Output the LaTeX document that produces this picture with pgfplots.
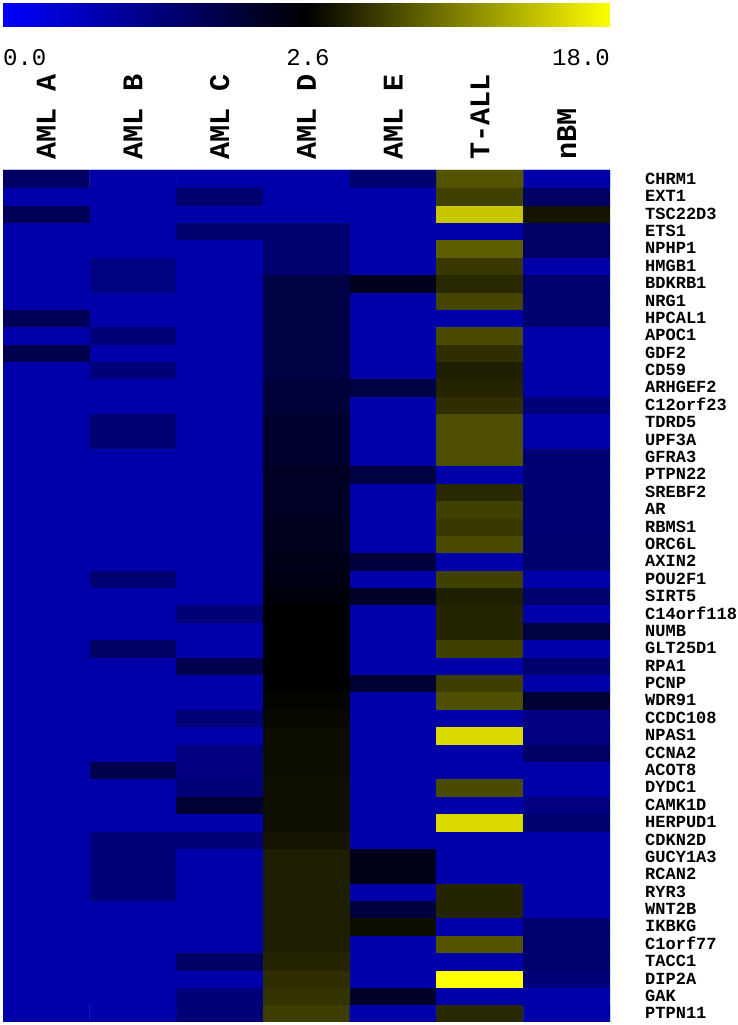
\documentclass[border=0pt]{standalone}
\usepackage{pgfplots}
\pgfplotsset{compat=1.18}
\usepackage{fontspec}
\setmonofont{Liberation Mono}

\pgfplotsset{
  colormap={bky}{rgb255=(0,0,255) rgb255=(0,0,0) rgb255=(255,255,0)}
}

\begin{document}
\begin{tikzpicture}
\path[use as bounding box] (0pt,0pt) rectangle (738pt,1025pt);

% colour scale bar
\begin{axis}[
    at={(3pt,998pt)}, anchor=south west,
    scale only axis,
    width=607pt, height=24pt,
    xmin=0, xmax=2, ymin=0, ymax=1,
    hide axis,
    colormap name=bky,
    point meta min=0, point meta max=2,
]
\addplot[surf, shader=interp, mesh/cols=3, point meta=x] coordinates {
(0,0) (1,0) (2,0)
(0,1) (1,1) (2,1)
};
\end{axis}

\begin{axis}[
    at={(3pt,3pt)}, anchor=south west,
    scale only axis,
    width=607pt, height=852pt,
    xmin=-0.5, xmax=6.5, ymin=-0.5, ymax=48.5,
    enlargelimits=false,
    colormap name=bky,
    point meta min=0, point meta max=2,
    axis line style={draw=none},
    major tick length=0pt,
    xtick={0,...,6},
    xticklabels={AML A,AML B,AML C,AML D,AML E,T-ALL,nBM},
    xticklabel pos=right,
    xticklabel shift=10pt,
    xticklabel style={rotate=90, anchor=west, inner sep=0pt,
        font=\ttfamily\bfseries\fontsize{28.5}{28.5}\selectfont},
    ytick={0,...,48},
    yticklabels={PTPN11,GAK,DIP2A,TACC1,C1orf77,IKBKG,WNT2B,RYR3,RCAN2,GUCY1A3,
        CDKN2D,HERPUD1,CAMK1D,DYDC1,ACOT8,CCNA2,NPAS1,CCDC108,WDR91,PCNP,
        RPA1,GLT25D1,NUMB,C14orf118,SIRT5,POU2F1,AXIN2,ORC6L,RBMS1,AR,
        SREBF2,PTPN22,GFRA3,UPF3A,TDRD5,C12orf23,ARHGEF2,CD59,GDF2,APOC1,
        HPCAL1,NRG1,BDKRB1,HMGB1,NPHP1,ETS1,TSC22D3,EXT1,CHRM1},
    yticklabel pos=right,
    yticklabel shift=35pt,
    yticklabel style={anchor=west, inner sep=0pt,
        font=\ttfamily\bfseries\fontsize{17}{17}\selectfont},
]
\addplot[matrix plot*, mesh/cols=7, point meta=explicit] coordinates {
(0,0)[.33] (1,0)[.33] (2,0)[.53] (3,0)[1.24] (4,0)[.33] (5,0)[1.16] (6,0)[.33]
(0,1)[.33] (1,1)[.33] (2,1)[.53] (3,1)[1.20] (4,1)[.84] (5,1)[.33] (6,1)[.33]
(0,2)[.33] (1,2)[.33] (2,2)[.33] (3,2)[1.18] (4,2)[.33] (5,2)[2.00] (6,2)[.53]
(0,3)[.33] (1,3)[.33] (2,3)[.61] (3,3)[1.14] (4,3)[.33] (5,3)[.33] (6,3)[.57]
(0,4)[.33] (1,4)[.33] (2,4)[.33] (3,4)[1.12] (4,4)[.33] (5,4)[1.33] (6,4)[.57]
(0,5)[.33] (1,5)[.33] (2,5)[.33] (3,5)[1.12] (4,5)[1.05] (5,5)[.33] (6,5)[.57]
(0,6)[.33] (1,6)[.33] (2,6)[.33] (3,6)[1.12] (4,6)[.76] (5,6)[1.14] (6,6)[.33]
(0,7)[.33] (1,7)[.53] (2,7)[.33] (3,7)[1.12] (4,7)[.33] (5,7)[1.14] (6,7)[.33]
(0,8)[.33] (1,8)[.53] (2,8)[.33] (3,8)[1.12] (4,8)[.90] (5,8)[.33] (6,8)[.33]
(0,9)[.33] (1,9)[.53] (2,9)[.33] (3,9)[1.12] (4,9)[.90] (5,9)[.33] (6,9)[.33]
(0,10)[.33] (1,10)[.53] (2,10)[.53] (3,10)[1.08] (4,10)[.33] (5,10)[.33] (6,10)[.33]
(0,11)[.33] (1,11)[.33] (2,11)[.33] (3,11)[1.06] (4,11)[.33] (5,11)[1.86] (6,11)[.57]
(0,12)[.33] (1,12)[.33] (2,12)[.80] (3,12)[1.06] (4,12)[.33] (5,12)[.33] (6,12)[.50]
(0,13)[.33] (1,13)[.33] (2,13)[.53] (3,13)[1.06] (4,13)[.33] (5,13)[1.29] (6,13)[.33]
(0,14)[.33] (1,14)[.69] (2,14)[.50] (3,14)[1.05] (4,14)[.33] (5,14)[.33] (6,14)[.33]
(0,15)[.33] (1,15)[.33] (2,15)[.50] (3,15)[1.05] (4,15)[.33] (5,15)[.33] (6,15)[.61]
(0,16)[.33] (1,16)[.33] (2,16)[.33] (3,16)[1.05] (4,16)[.33] (5,16)[1.86] (6,16)[.50]
(0,17)[.33] (1,17)[.33] (2,17)[.53] (3,17)[1.03] (4,17)[.33] (5,17)[.33] (6,17)[.50]
(0,18)[.33] (1,18)[.33] (2,18)[.33] (3,18)[1.02] (4,18)[.33] (5,18)[1.31] (6,18)[.80]
(0,19)[.33] (1,19)[.33] (2,19)[.33] (3,19)[1.00] (4,19)[.80] (5,19)[1.24] (6,19)[.33]
(0,20)[.33] (1,20)[.33] (2,20)[.69] (3,20)[1.00] (4,20)[.33] (5,20)[.33] (6,20)[.57]
(0,21)[.33] (1,21)[.61] (2,21)[.33] (3,21)[1.00] (4,21)[.33] (5,21)[1.25] (6,21)[.33]
(0,22)[.33] (1,22)[.33] (2,22)[.33] (3,22)[1.00] (4,22)[.33] (5,22)[1.14] (6,22)[.73]
(0,23)[.33] (1,23)[.33] (2,23)[.53] (3,23)[1.00] (4,23)[.33] (5,23)[1.14] (6,23)[.33]
(0,24)[.33] (1,24)[.33] (2,24)[.33] (3,24)[.95] (4,24)[.84] (5,24)[1.12] (6,24)[.57]
(0,25)[.33] (1,25)[.55] (2,25)[.33] (3,25)[.92] (4,25)[.33] (5,25)[1.25] (6,25)[.33]
(0,26)[.33] (1,26)[.33] (2,26)[.33] (3,26)[.90] (4,26)[.76] (5,26)[.33] (6,26)[.57]
(0,27)[.33] (1,27)[.33] (2,27)[.33] (3,27)[.88] (4,27)[.33] (5,27)[1.29] (6,27)[.57]
(0,28)[.33] (1,28)[.33] (2,28)[.33] (3,28)[.88] (4,28)[.33] (5,28)[1.22] (6,28)[.55]
(0,29)[.33] (1,29)[.33] (2,29)[.33] (3,29)[.86] (4,29)[.33] (5,29)[1.25] (6,29)[.55]
(0,30)[.33] (1,30)[.33] (2,30)[.33] (3,30)[.86] (4,30)[.33] (5,30)[1.16] (6,30)[.55]
(0,31)[.33] (1,31)[.33] (2,31)[.33] (3,31)[.86] (4,31)[.73] (5,31)[.33] (6,31)[.55]
(0,32)[.33] (1,32)[.33] (2,32)[.33] (3,32)[.82] (4,32)[.33] (5,32)[1.31] (6,32)[.55]
(0,33)[.33] (1,33)[.55] (2,33)[.33] (3,33)[.82] (4,33)[.33] (5,33)[1.31] (6,33)[.33]
(0,34)[.33] (1,34)[.55] (2,34)[.33] (3,34)[.82] (4,34)[.33] (5,34)[1.31] (6,34)[.33]
(0,35)[.33] (1,35)[.33] (2,35)[.33] (3,35)[.78] (4,35)[.33] (5,35)[1.18] (6,35)[.53]
(0,36)[.33] (1,36)[.33] (2,36)[.33] (3,36)[.78] (4,36)[.73] (5,36)[1.14] (6,36)[.33]
(0,37)[.33] (1,37)[.53] (2,37)[.33] (3,37)[.73] (4,37)[.33] (5,37)[1.12] (6,37)[.33]
(0,38)[.70] (1,38)[.33] (2,38)[.33] (3,38)[.73] (4,38)[.33] (5,38)[1.18] (6,38)[.33]
(0,39)[.33] (1,39)[.53] (2,39)[.33] (3,39)[.73] (4,39)[.33] (5,39)[1.29] (6,39)[.33]
(0,40)[.65] (1,40)[.33] (2,40)[.33] (3,40)[.73] (4,40)[.33] (5,40)[.33] (6,40)[.57]
(0,41)[.33] (1,41)[.33] (2,41)[.33] (3,41)[.73] (4,41)[.33] (5,41)[1.27] (6,41)[.57]
(0,42)[.33] (1,42)[.49] (2,42)[.33] (3,42)[.73] (4,42)[.88] (5,42)[1.16] (6,42)[.57]
(0,43)[.33] (1,43)[.49] (2,43)[.33] (3,43)[.57] (4,43)[.33] (5,43)[1.22] (6,43)[.33]
(0,44)[.33] (1,44)[.33] (2,44)[.33] (3,44)[.57] (4,44)[.33] (5,44)[1.37] (6,44)[.61]
(0,45)[.33] (1,45)[.33] (2,45)[.57] (3,45)[.57] (4,45)[.33] (5,45)[.33] (6,45)[.61]
(0,46)[.65] (1,46)[.33] (2,46)[.33] (3,46)[.33] (4,46)[.33] (5,46)[1.78] (6,46)[1.08]
(0,47)[.33] (1,47)[.33] (2,47)[.57] (3,47)[.33] (4,47)[.33] (5,47)[1.25] (6,47)[.61]
(0,48)[.61] (1,48)[.33] (2,48)[.33] (3,48)[.33] (4,48)[.57] (5,48)[1.33] (6,48)[.33]
};
\end{axis}

% colour bar scale labels
\node[anchor=west, inner sep=0pt, font=\ttfamily\fontsize{24}{24}\selectfont] at (3pt,967pt) {0.0};
\node[anchor=center, inner sep=0pt, font=\ttfamily\fontsize{24}{24}\selectfont] at (308pt,967pt) {2.6};
\node[anchor=east, inner sep=0pt, font=\ttfamily\fontsize{24}{24}\selectfont] at (610pt,967pt) {18.0};
\end{tikzpicture}
\end{document}
